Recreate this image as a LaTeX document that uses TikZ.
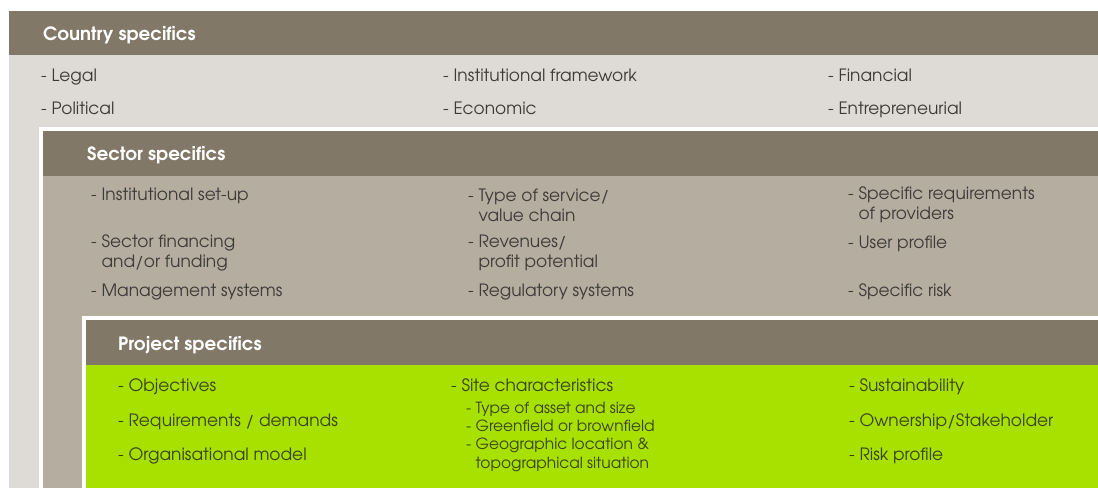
\documentclass[tikz,border=0pt]{standalone}
\usepackage{fontspec}
\setmainfont{TeX Gyre Adventor}
\usepackage{tikz}
\usetikzlibrary{positioning}
\definecolor{headcolor}{RGB}{129,120,103}
\definecolor{countrycolor}{RGB}{222,218,213}
\definecolor{sectorcolor}{RGB}{182,173,161}
\definecolor{projectcolor}{RGB}{168,224,0}
\definecolor{greytext}{RGB}{62,58,54}
\definecolor{greentext}{RGB}{58,68,24}

\begin{document}
\begin{tikzpicture}[
    x=1pt, y=-1pt,
    title/.style={anchor=base west, inner sep=0pt, text=white, font=\fontsize{18.3}{20}\selectfont\bfseries},
    item/.style={anchor=base west, inner sep=0pt, text=greytext, font=\fontsize{17}{20}\selectfont},
    twoline/.style={anchor=west, inner sep=0pt, align=left, text=greytext, font=\fontsize{17}{20}\selectfont},
    subitem/.style={anchor=base west, inner sep=0pt, align=left, text=greentext, font=\fontsize{15.4}{18.5}\selectfont}
]
    \useasboundingbox (0,0) rectangle (1098,488);
    
    % Country specifics
    \fill[countrycolor] (9,11) rectangle (1098,488);
    \fill[headcolor] (9,11) rectangle (1098,55);
    \node[title] (country) at (43,40.5) {Country specifics};
    \node[item] (legal) at (41,81) {- Legal};
    \node[item] (political) at (41,114) {- Political};
    \node[item] (instframe) at (443,81) {- Institutional framework};
    \node[item] (economic) at (443,114) {- Economic};
    \node[item] (financial) at (828,81) {- Financial};
    \node[item] (entrepr) at (828,114) {- Entrepreneurial};
    
    % Sector specifics
    \fill[white] (39,127) rectangle (1098,488);
    \fill[sectorcolor] (43,131) rectangle (1098,488);
    \fill[headcolor] (43,131) rectangle (1098,176);
    \node[title] (sector) at (87,160.5) {Sector specifics};
    \node[item] (setup) at (91,200) {- Institutional set-up};
    \node[twoline] (financing) at (91,253) {- Sector financing\\\phantom{- }and/or funding};
    \node[item] (management) at (91,296) {- Management systems};
    \node[twoline] (service) at (468,205) {- Type of service/\\\phantom{- }value chain};
    \node[twoline] (revenues) at (468,253) {- Revenues/\\\phantom{- }profit potential};
    \node[item] (regulatory) at (468,296) {- Regulatory systems};
    \node[twoline] (providers) at (848,205) {- Specific requirements\\\phantom{- }of providers};
    \node[item] (userprofile) at (848,248) {- User profile};
    \node[item] (specrisk) at (848,296) {- Specific risk};
    
    % Project specifics
    \fill[white] (82,316) rectangle (1098,488);
    \fill[projectcolor] (86,320) rectangle (1098,488);
    \fill[headcolor] (86,320) rectangle (1098,365);
    \node[title] (project) at (118,350.5) {Project specifics};
    \node[item, text=greentext] (objectives) at (118,391) {- Objectives};
    \node[item, text=greentext] (demands) at (118,426) {- Requirements / demands};
    \node[item, text=greentext] (orgmodel) at (118,460) {- Organisational model};
    \node[item, text=greentext] (site) at (451,391) {- Site characteristics};
    \node[subitem] (asset) at (466,413.7) {- Type of asset and size};
    \node[subitem] (greenfield) at (466,431.7) {- Greenfield or brownfield};
    \node[subitem, anchor=west] (location) at (466,455) {- Geographic location \&\\\phantom{- }topographical situation};
    \node[item, text=greentext] (sustain) at (849,391) {- Sustainability};
    \node[item, text=greentext] (ownership) at (849,426) {- Ownership/Stakeholder};
    \node[item, text=greentext] (riskprofile) at (849,460) {- Risk profile};
\end{tikzpicture}
\end{document}
